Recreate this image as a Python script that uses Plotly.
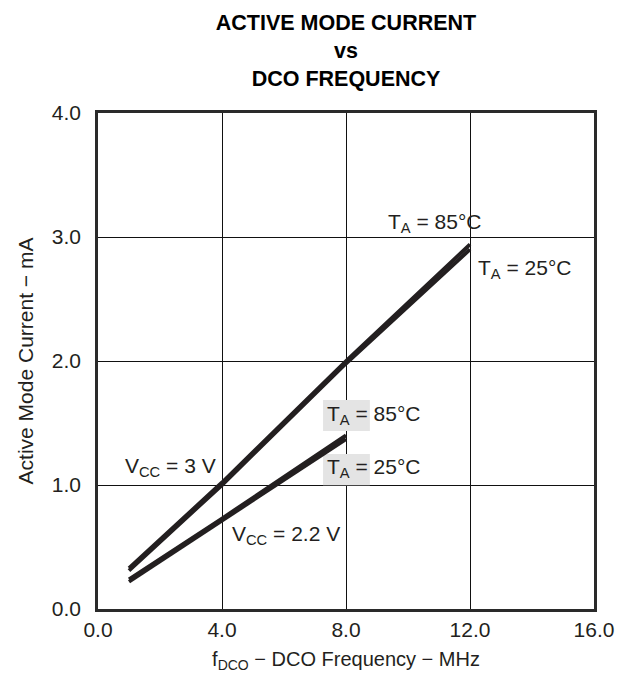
import plotly.graph_objects as go

# Data
freq_3v = [1, 4, 8, 12]
i_3v_85 = [0.33, 1.02, 2.00, 2.94]
i_3v_25 = [0.31, 1.00, 1.98, 2.90]

freq_22v = [1, 4, 8]
i_22v_85 = [0.24, 0.73, 1.40]
i_22v_25 = [0.22, 0.71, 1.37]

x_ticks = [0, 4, 8, 12, 16]
x_tick_labels = ["0.0", "4.0", "8.0", "12.0", "16.0"]
y_ticks = [0, 1, 2, 3, 4]
y_tick_labels = ["0.0", "1.0", "2.0", "3.0", "4.0"]

FONT = "Liberation Sans, Arial, sans-serif"
INK = "#231f20"
LW = 3.8

fig = go.Figure()
for xs, ys, name in [(freq_3v, i_3v_85, "VCC=3V, TA=85°C"),
                     (freq_3v, i_3v_25, "VCC=3V, TA=25°C"),
                     (freq_22v, i_22v_85, "VCC=2.2V, TA=85°C"),
                     (freq_22v, i_22v_25, "VCC=2.2V, TA=25°C")]:
    fig.add_trace(go.Scatter(x=xs, y=ys, mode="lines", name=name,
                             line=dict(color=INK, width=LW), showlegend=False,
                             hoverinfo="skip"))

# grey label backgrounds
for y0, y1 in [(1.435, 1.686), (0.998, 1.249)]:
    fig.add_shape(type="rect", xref="x", yref="y", x0=7.26, x1=8.77, y0=y0, y1=y1,
                  fillcolor="#e4e4e4", line=dict(width=0), layer="between")

labels = [
    ("T<sub>A</sub> = 85°C", 9.3, 3.11),
    ("T<sub>A</sub> = 25°C", 12.2, 2.74),
    ("T<sub>A</sub> = 85°C", 7.33, 1.565),
    ("T<sub>A</sub> = 25°C", 7.33, 1.136),
    ("V<sub>CC</sub> = 3 V", 0.82, 1.146),
    ("V<sub>CC</sub> = 2.2 V", 4.25, 0.594),
]
for text, x, y in labels:
    fig.add_annotation(text=text, x=x, y=y, xref="x", yref="y", showarrow=False,
                       xanchor="left", yanchor="middle",
                       font=dict(family=FONT, size=21, color=INK))

fig.update_layout(
    width=623, height=673,
    margin=dict(l=98, r=29, t=113, b=64, autoexpand=False),
    paper_bgcolor="white", plot_bgcolor="white",
    title=dict(text="<b>ACTIVE MODE CURRENT<br>vs<br>DCO FREQUENCY</b>",
               x=346 / 623, xanchor="center", y=0.955, yanchor="top",
               font=dict(family=FONT, size=21.5, color="black")),
    font=dict(family=FONT, size=21, color=INK),
)
fig.update_xaxes(range=[0, 16], tickvals=x_ticks, ticktext=x_tick_labels,
                 showgrid=True, gridcolor="#111111", gridwidth=1,
                 showline=True, linecolor="#2a2a2a", linewidth=2.6, mirror=True,
                 ticks="", zeroline=False, ticklabelstandoff=0,
                 tickfont=dict(family=FONT, size=21, color=INK),
                 title=dict(text="f<sub>DCO</sub> − DCO Frequency − MHz", standoff=18,
                            font=dict(family=FONT, size=20, color=INK)))
fig.update_yaxes(range=[0, 4], tickvals=y_ticks, ticktext=y_tick_labels,
                 showgrid=True, gridcolor="#111111", gridwidth=1,
                 showline=True, linecolor="#2a2a2a", linewidth=2.6, mirror=True,
                 ticks="", zeroline=False, ticklabelstandoff=10,
                 tickfont=dict(family=FONT, size=21, color=INK),
                 title=dict(text="Active Mode Current − mA", standoff=13,
                            font=dict(family=FONT, size=21, color=INK)))

fig.write_html("out.html", config={"displayModeBar": False},
               post_script="document.body.style.margin='0';")
